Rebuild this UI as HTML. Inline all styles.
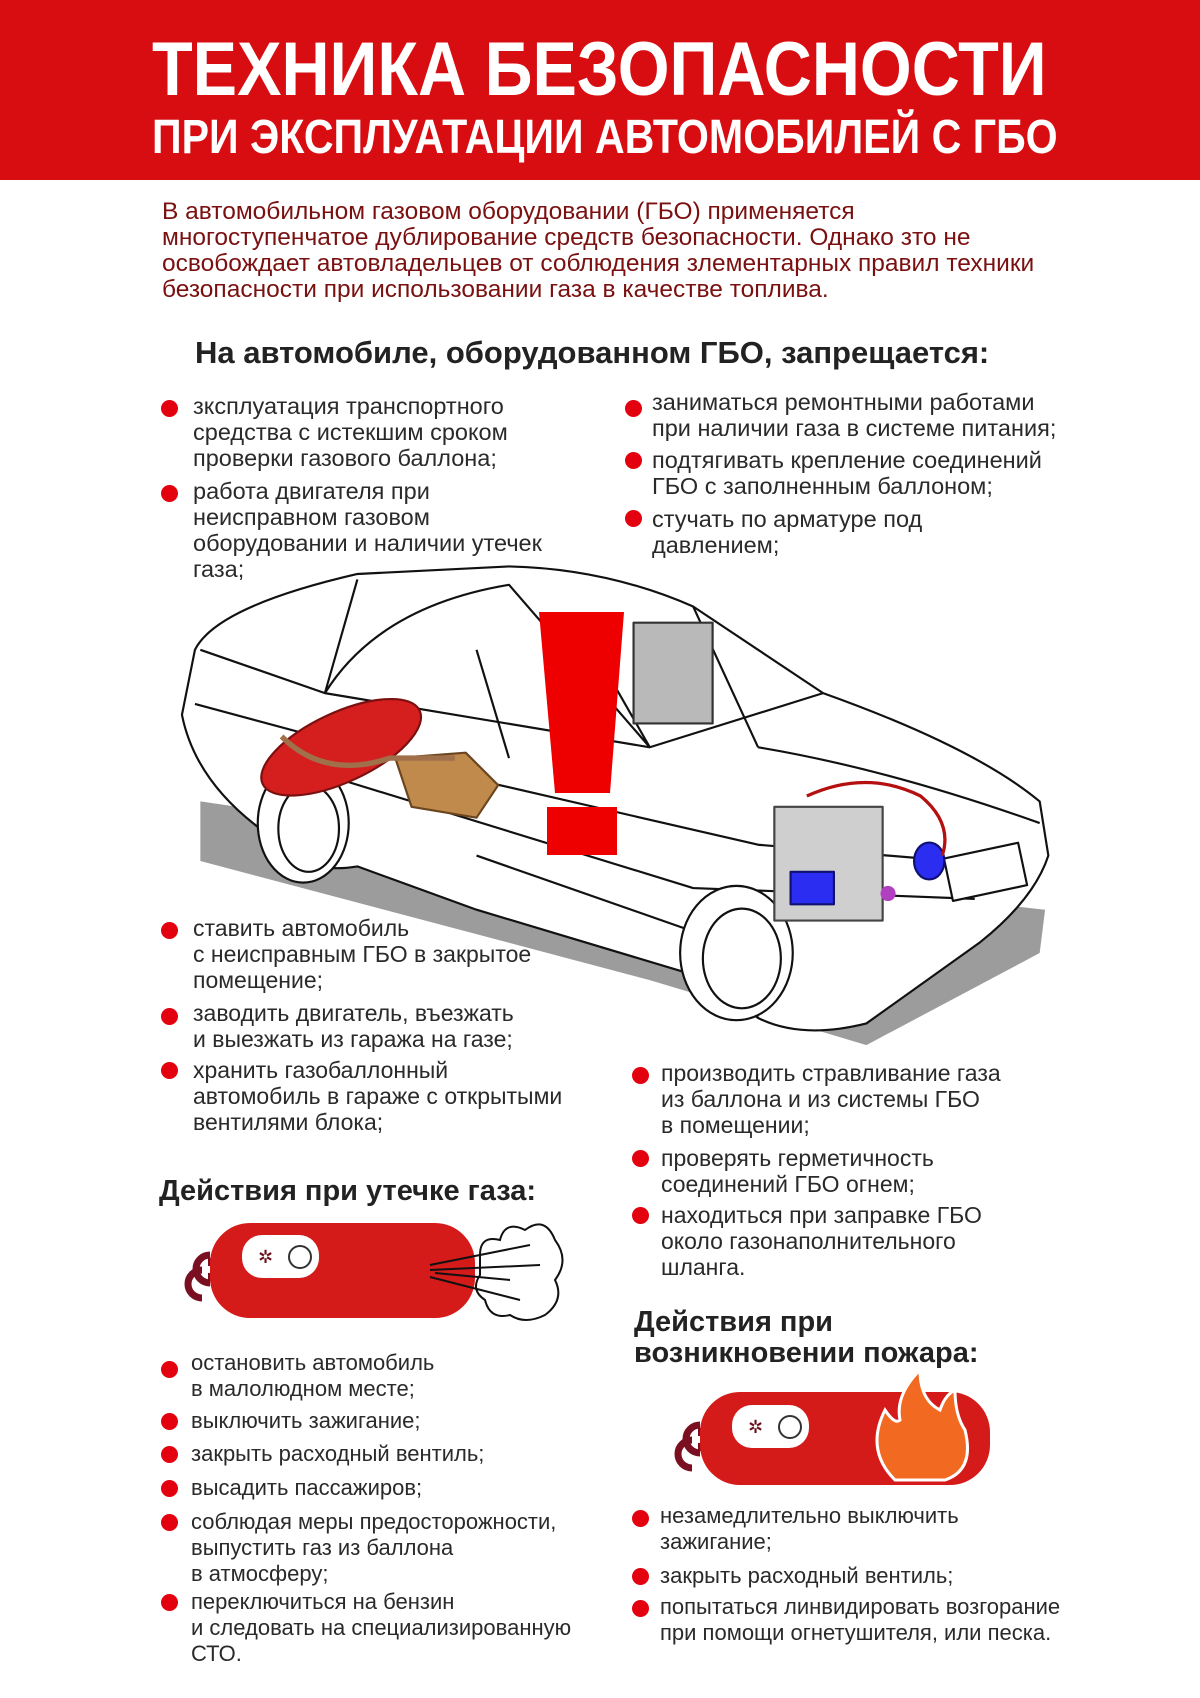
<!DOCTYPE html>
<html><head><meta charset="utf-8"><style>
*{margin:0;padding:0}
body{width:1200px;height:1698px;background:#fff;position:relative;overflow:hidden;font-family:"Liberation Sans","DejaVu Sans",sans-serif}
.banner{position:absolute;left:0;top:0;width:1200px;height:180px;background:#d70d11}
.t{position:absolute;color:#fff;font-weight:bold;white-space:nowrap;transform-origin:0 0}
.p{position:absolute;font-size:22px;line-height:26px;color:#2a2a2a;white-space:nowrap}
.big{font-size:23.5px}
.mid{font-size:23px}
.intro{position:absolute;left:162px;top:199px;font-size:24.5px;line-height:26px;color:#7a1010;white-space:nowrap}
.h{position:absolute;font-weight:bold;color:#222;white-space:nowrap}
.d{position:absolute;width:17px;height:17px;border-radius:50%;background:#e3000f}
</style></head><body>
<div class="banner"></div>
<div class="t" style="left:152px;top:32px;font-size:76px;line-height:76px;transform:scaleX(0.876)">ТЕХНИКА БЕЗОПАСНОСТИ</div>
<div class="t" style="left:152px;top:114px;font-size:48px;line-height:48px;transform:scaleX(0.857)">ПРИ ЭКСПЛУАТАЦИИ АВТОМОБИЛЕЙ С ГБО</div>

<div class="intro">В автомобильном газовом оборудовании (ГБО) применяется<br>многоступенчатое дублирование средств безопасности. Однако зто не<br>освобождает автовладельцев от соблюдения злементарных правил техники<br>безопасности при использовании газа в качестве топлива.</div>

<div class="h" style="left:195px;top:335px;font-size:31px">На автомобиле, оборудованном ГБО, запрещается:</div>

<div class="d" style="left:161px;top:400px"></div>
<div class="p big" style="left:193px;top:393px">зксплуатация транспортного<br>средства с истекшим сроком<br>проверки газового баллона;</div>
<div class="d" style="left:161px;top:485px"></div>
<div class="p big" style="left:193px;top:478px">работа двигателя при<br>неисправном газовом<br>оборудовании и наличии утечек<br>газа;</div>

<div class="d" style="left:625px;top:400px"></div>
<div class="p big" style="left:652px;top:389px">заниматься ремонтными работами<br>при наличии газа в системе питания;</div>
<div class="d" style="left:625px;top:452px"></div>
<div class="p big" style="left:652px;top:447px">подтягивать крепление соединений<br>ГБО с заполненным баллоном;</div>
<div class="d" style="left:625px;top:510px"></div>
<div class="p big" style="left:652px;top:506px">стучать по арматуре под<br>давлением;</div>

<svg style="position:absolute;left:0;top:0" width="1200" height="1698" viewBox="0 0 1200 1698">
<g transform="scale(1.083)" stroke="#111" stroke-width="2" fill="none" stroke-linejoin="round">
<path d="M185,740 L560,795 L965,840 L960,880 L800,965 L600,905 L185,795 Z" fill="#9c9c9c" stroke="none"/>
<path d="M180,600 Q200,560 330,530 L470,523 Q560,525 640,560 L760,640 Q900,690 960,740 L968,790 Q955,830 905,870 L800,945 Q740,960 700,940 L640,900 L440,840 L330,800 Q300,805 280,795 L240,765 Q180,720 168,660 Z" fill="#fff"/>
<path d="M185,600 L300,640 L600,690 L760,640 M300,640 L330,535 M300,640 Q350,560 470,540 L600,690 M440,600 L470,700 M560,620 L600,690 M640,560 L700,690 M700,690 Q820,710 960,760 M180,650 L440,720 L700,780 L940,800 M250,700 L640,820 L900,830 M660,860 L700,940 M440,790 L640,860"/>
<ellipse cx="280" cy="760" rx="42" ry="55" fill="#fff"/>
<ellipse cx="285" cy="765" rx="28" ry="40"/>
<ellipse cx="680" cy="880" rx="52" ry="62" fill="#fff"/>
<ellipse cx="685" cy="885" rx="36" ry="46"/>
<rect x="875" y="785" width="70" height="40" transform="rotate(-12 910 805)" fill="#fff"/>
<ellipse cx="315" cy="690" rx="80" ry="32" transform="rotate(-25 315 690)" fill="#d51f1f" stroke="#7a1010"/>
<path d="M365,700 L430,695 L460,725 L440,755 L380,745 Z" fill="#c08a4c" stroke="#6b4520"/>
<path d="M260,680 Q300,720 360,700 L420,700" stroke="#a0704a" stroke-width="5"/>
<rect x="585" y="575" width="73" height="93" fill="#b9b9b9" stroke="#333"/>
<rect x="715" y="745" width="100" height="105" fill="#cfcfcf" stroke="#444"/>
<rect x="730" y="805" width="40" height="30" fill="#2b2ef0" stroke="#101070"/>
<ellipse cx="858" cy="795" rx="14" ry="17" fill="#2b2ef0" stroke="#101070"/>
<path d="M745,735 Q800,710 850,735 Q880,760 870,790" stroke="#b51010" stroke-width="3"/>
<circle cx="820" cy="825" r="7" fill="#b040c0" stroke="none"/>
</g>
<path d="M539,612 L624,612 L610,793 L555,793 Z" fill="#ee0000"/>
<rect x="547" y="807" width="70" height="48" fill="#ee0000"/>
</svg>

<div class="d" style="left:161px;top:922px"></div>
<div class="p mid" style="left:193px;top:915px">ставить автомобиль<br>с неисправным ГБО в закрытое<br>помещение;</div>
<div class="d" style="left:161px;top:1008px"></div>
<div class="p mid" style="left:193px;top:1000px">заводить двигатель, въезжать<br>и выезжать из гаража на газе;</div>
<div class="d" style="left:161px;top:1062px"></div>
<div class="p mid" style="left:193px;top:1057px">хранить газобаллонный<br>автомобиль в гараже с открытыми<br>вентилями блока;</div>

<div class="d" style="left:632px;top:1067px"></div>
<div class="p mid" style="left:661px;top:1060px">производить стравливание газа<br>из баллона и из системы ГБО<br>в помещении;</div>
<div class="d" style="left:632px;top:1150px"></div>
<div class="p mid" style="left:661px;top:1145px">проверять герметичность<br>соединений ГБО огнем;</div>
<div class="d" style="left:632px;top:1207px"></div>
<div class="p mid" style="left:661px;top:1202px">находиться при заправке ГБО<br>около газонаполнительного<br>шланга.</div>

<div class="h" style="left:159px;top:1175px;font-size:29px">Действия при утечке газа:</div>
<svg style="position:absolute;left:180px;top:1215px" width="400" height="110">
<path d="M30,40 a14,14 0 1 0 0,28 M22,55 a14,14 0 1 0 0,28" stroke="#7a0f22" stroke-width="7" fill="none"/>
<rect x="28" y="43" width="40" height="8" fill="#7a0f22"/><rect x="28" y="58" width="40" height="8" fill="#7a0f22"/>
<rect x="30" y="8" width="265" height="95" rx="40" fill="#d51a1a"/>
<rect x="62" y="20" width="77" height="43" rx="20" fill="#fff"/>
<text x="78" y="48" font-size="18" fill="#6a0f1a">✲</text>
<circle cx="120" cy="42" r="11" fill="#fff" stroke="#333" stroke-width="2"/>
<path d="M250,50 L350,30 M250,55 L360,50 M250,62 L340,85 M255,58 L330,65" stroke="#111" stroke-width="2"/>
<path d="M300,40 q0,-20 20,-15 q5,-20 25,-10 q20,-15 30,10 q15,20 0,40 q10,20 -10,35 q-20,10 -35,0 q-20,5 -25,-15 q-15,-10 -5,-25 z" fill="none" stroke="#111" stroke-width="2"/>
</svg>
<div class="d" style="left:161px;top:1361px"></div>
<div class="p" style="left:191px;top:1350px">остановить автомобиль<br>в малолюдном месте;</div>
<div class="d" style="left:161px;top:1413px"></div>
<div class="p" style="left:191px;top:1408px">выключить зажигание;</div>
<div class="d" style="left:161px;top:1446px"></div>
<div class="p" style="left:191px;top:1441px">закрыть расходный вентиль;</div>
<div class="d" style="left:161px;top:1480px"></div>
<div class="p" style="left:191px;top:1475px">высадить пассажиров;</div>
<div class="d" style="left:161px;top:1514px"></div>
<div class="p" style="left:191px;top:1509px">соблюдая меры предосторожности,<br>выпустить газ из баллона<br>в атмосферу;</div>
<div class="d" style="left:161px;top:1594px"></div>
<div class="p" style="left:191px;top:1589px">переключиться на бензин<br>и следовать на специализированную<br>СТО.</div>

<div class="h" style="left:634px;top:1307px;font-size:29px;line-height:31px">Действия при<br>возникновении пожара:</div>
<svg style="position:absolute;left:670px;top:1370px" width="330" height="120">
<path d="M30,55 a14,14 0 1 0 0,28 M22,70 a14,14 0 1 0 0,28" stroke="#7a0f22" stroke-width="7" fill="none"/>
<rect x="28" y="58" width="40" height="8" fill="#7a0f22"/><rect x="28" y="73" width="40" height="8" fill="#7a0f22"/>
<rect x="30" y="22" width="290" height="93" rx="40" fill="#d51a1a"/>
<rect x="62" y="35" width="77" height="43" rx="20" fill="#fff"/>
<text x="78" y="63" font-size="18" fill="#6a0f1a">✲</text>
<circle cx="120" cy="57" r="11" fill="#fff" stroke="#333" stroke-width="2"/>
<path d="M225,110 q-30,-30 -10,-70 q10,15 15,10 q-5,-25 20,-50 q0,30 20,40 q5,-15 15,-20 q0,25 10,40 q10,40 -20,50 z" fill="#f26a22" stroke="#fff" stroke-width="3"/>
</svg>
<div class="d" style="left:632px;top:1510px"></div>
<div class="p" style="left:660px;top:1503px">незамедлительно выключить<br>зажигание;</div>
<div class="d" style="left:632px;top:1568px"></div>
<div class="p" style="left:660px;top:1563px">закрыть расходный вентиль;</div>
<div class="d" style="left:632px;top:1600px"></div>
<div class="p" style="left:660px;top:1594px">попытаться линвидировать возгорание<br>при помощи огнетушителя, или песка.</div>
</body></html>
